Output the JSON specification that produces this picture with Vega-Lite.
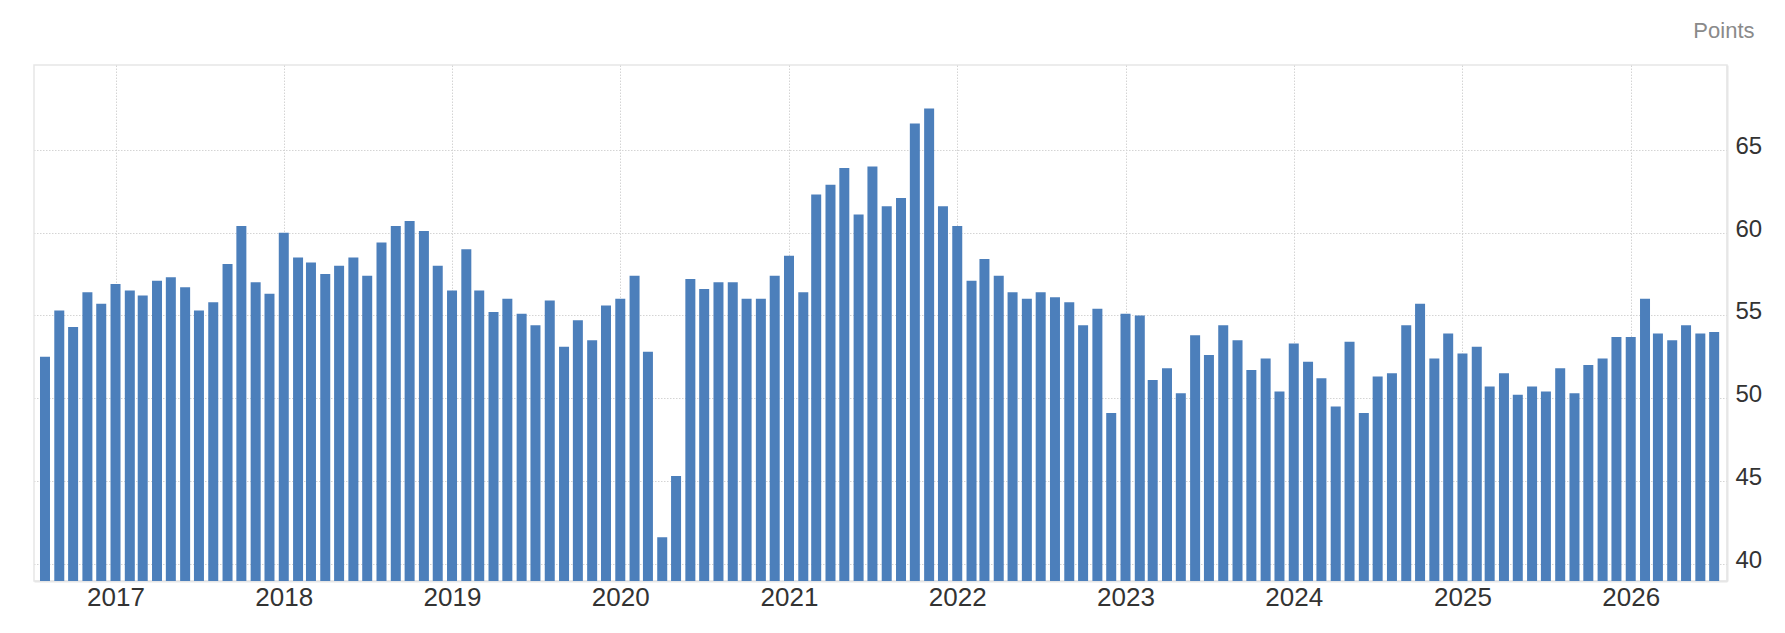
{
  "$schema": "https://vega.github.io/schema/vega-lite/v6.json",
  "width": 1693,
  "height": 516,
  "autosize": {"type": "none"},
  "padding": {"left": 34, "top": 65, "right": 58, "bottom": 52},
  "background": "white",
  "config": {
    "view": {"stroke": "#e6e6e6", "strokeWidth": 1.5},
    "font": "Liberation Sans"
  },
  "data": {
    "values": [
      {"date": "2016-08-01", "value": 52.5},
      {"date": "2016-09-01", "value": 55.3},
      {"date": "2016-10-01", "value": 54.3},
      {"date": "2016-11-01", "value": 56.4},
      {"date": "2016-12-01", "value": 55.7},
      {"date": "2017-01-01", "value": 56.9},
      {"date": "2017-02-01", "value": 56.5},
      {"date": "2017-03-01", "value": 56.2},
      {"date": "2017-04-01", "value": 57.1},
      {"date": "2017-05-01", "value": 57.3},
      {"date": "2017-06-01", "value": 56.7},
      {"date": "2017-07-01", "value": 55.3},
      {"date": "2017-08-01", "value": 55.8},
      {"date": "2017-09-01", "value": 58.1},
      {"date": "2017-10-01", "value": 60.4},
      {"date": "2017-11-01", "value": 57.0},
      {"date": "2017-12-01", "value": 56.3},
      {"date": "2018-01-01", "value": 60.0},
      {"date": "2018-02-01", "value": 58.5},
      {"date": "2018-03-01", "value": 58.2},
      {"date": "2018-04-01", "value": 57.5},
      {"date": "2018-05-01", "value": 58.0},
      {"date": "2018-06-01", "value": 58.5},
      {"date": "2018-07-01", "value": 57.4},
      {"date": "2018-08-01", "value": 59.4},
      {"date": "2018-09-01", "value": 60.4},
      {"date": "2018-10-01", "value": 60.7},
      {"date": "2018-11-01", "value": 60.1},
      {"date": "2018-12-01", "value": 58.0},
      {"date": "2019-01-01", "value": 56.5},
      {"date": "2019-02-01", "value": 59.0},
      {"date": "2019-03-01", "value": 56.5},
      {"date": "2019-04-01", "value": 55.2},
      {"date": "2019-05-01", "value": 56.0},
      {"date": "2019-06-01", "value": 55.1},
      {"date": "2019-07-01", "value": 54.4},
      {"date": "2019-08-01", "value": 55.9},
      {"date": "2019-09-01", "value": 53.1},
      {"date": "2019-10-01", "value": 54.7},
      {"date": "2019-11-01", "value": 53.5},
      {"date": "2019-12-01", "value": 55.6},
      {"date": "2020-01-01", "value": 56.0},
      {"date": "2020-02-01", "value": 57.4},
      {"date": "2020-03-01", "value": 52.8},
      {"date": "2020-04-01", "value": 41.6},
      {"date": "2020-05-01", "value": 45.3},
      {"date": "2020-06-01", "value": 57.2},
      {"date": "2020-07-01", "value": 56.6},
      {"date": "2020-08-01", "value": 57.0},
      {"date": "2020-09-01", "value": 57.0},
      {"date": "2020-10-01", "value": 56.0},
      {"date": "2020-11-01", "value": 56.0},
      {"date": "2020-12-01", "value": 57.4},
      {"date": "2021-01-01", "value": 58.6},
      {"date": "2021-02-01", "value": 56.4},
      {"date": "2021-03-01", "value": 62.3},
      {"date": "2021-04-01", "value": 62.9},
      {"date": "2021-05-01", "value": 63.9},
      {"date": "2021-06-01", "value": 61.1},
      {"date": "2021-07-01", "value": 64.0},
      {"date": "2021-08-01", "value": 61.6},
      {"date": "2021-09-01", "value": 62.1},
      {"date": "2021-10-01", "value": 66.6},
      {"date": "2021-11-01", "value": 67.5},
      {"date": "2021-12-01", "value": 61.6},
      {"date": "2022-01-01", "value": 60.4},
      {"date": "2022-02-01", "value": 57.1},
      {"date": "2022-03-01", "value": 58.4},
      {"date": "2022-04-01", "value": 57.4},
      {"date": "2022-05-01", "value": 56.4},
      {"date": "2022-06-01", "value": 56.0},
      {"date": "2022-07-01", "value": 56.4},
      {"date": "2022-08-01", "value": 56.1},
      {"date": "2022-09-01", "value": 55.8},
      {"date": "2022-10-01", "value": 54.4},
      {"date": "2022-11-01", "value": 55.4},
      {"date": "2022-12-01", "value": 49.1},
      {"date": "2023-01-01", "value": 55.1},
      {"date": "2023-02-01", "value": 55.0},
      {"date": "2023-03-01", "value": 51.1},
      {"date": "2023-04-01", "value": 51.8},
      {"date": "2023-05-01", "value": 50.3},
      {"date": "2023-06-01", "value": 53.8},
      {"date": "2023-07-01", "value": 52.6},
      {"date": "2023-08-01", "value": 54.4},
      {"date": "2023-09-01", "value": 53.5},
      {"date": "2023-10-01", "value": 51.7},
      {"date": "2023-11-01", "value": 52.4},
      {"date": "2023-12-01", "value": 50.4},
      {"date": "2024-01-01", "value": 53.3},
      {"date": "2024-02-01", "value": 52.2},
      {"date": "2024-03-01", "value": 51.2},
      {"date": "2024-04-01", "value": 49.5},
      {"date": "2024-05-01", "value": 53.4},
      {"date": "2024-06-01", "value": 49.1},
      {"date": "2024-07-01", "value": 51.3},
      {"date": "2024-08-01", "value": 51.5},
      {"date": "2024-09-01", "value": 54.4},
      {"date": "2024-10-01", "value": 55.7},
      {"date": "2024-11-01", "value": 52.4},
      {"date": "2024-12-01", "value": 53.9},
      {"date": "2025-01-01", "value": 52.7},
      {"date": "2025-02-01", "value": 53.1},
      {"date": "2025-03-01", "value": 50.7},
      {"date": "2025-04-01", "value": 51.5},
      {"date": "2025-05-01", "value": 50.2},
      {"date": "2025-06-01", "value": 50.7},
      {"date": "2025-07-01", "value": 50.4},
      {"date": "2025-08-01", "value": 51.8},
      {"date": "2025-09-01", "value": 50.3},
      {"date": "2025-10-01", "value": 52.0},
      {"date": "2025-11-01", "value": 52.4},
      {"date": "2025-12-01", "value": 53.7},
      {"date": "2026-01-01", "value": 53.7},
      {"date": "2026-02-01", "value": 56.0},
      {"date": "2026-03-01", "value": 53.9},
      {"date": "2026-04-01", "value": 53.5},
      {"date": "2026-05-01", "value": 54.4},
      {"date": "2026-06-01", "value": 53.9},
      {"date": "2026-07-01", "value": 54.0}
    ]
  },
  "mark": {"type": "bar", "color": "#4c7fbb", "width": 10, "clip": true},
  "encoding": {
    "x": {
      "field": "date",
      "type": "temporal",
      "scale": {
        "type": "utc",
        "domain": [
          {"year": 2016, "month": 7, "date": 19, "utc": true},
          {"year": 2026, "month": 7, "date": 18, "utc": true}
        ]
      },
      "axis": {
        "title": null,
        "values": [
          {"year": 2017, "month": 1, "date": 1, "utc": true},
          {"year": 2018, "month": 1, "date": 1, "utc": true},
          {"year": 2019, "month": 1, "date": 1, "utc": true},
          {"year": 2020, "month": 1, "date": 1, "utc": true},
          {"year": 2021, "month": 1, "date": 1, "utc": true},
          {"year": 2022, "month": 1, "date": 1, "utc": true},
          {"year": 2023, "month": 1, "date": 1, "utc": true},
          {"year": 2024, "month": 1, "date": 1, "utc": true},
          {"year": 2025, "month": 1, "date": 1, "utc": true},
          {"year": 2026, "month": 1, "date": 1, "utc": true}
        ],
        "format": "%Y",
        "ticks": false,
        "domainColor": "#e6e6e6",
        "domainWidth": 2,
        "labelFontSize": 26,
        "labelColor": "#333333",
        "labelPadding": 3,
        "labelFlush": false,
        "labelOverlap": false,
        "gridColor": "#d4d4d4",
        "gridDash": [1.5, 1.5],
        "gridWidth": 1
      }
    },
    "y": {
      "field": "value",
      "type": "quantitative",
      "scale": {"domain": [38.95, 70.13], "zero": false, "nice": false},
      "axis": {
        "orient": "right",
        "values": [40, 45, 50, 55, 60, 65],
        "ticks": false,
        "domainColor": "#e6e6e6",
        "domainWidth": 2,
        "labelFontSize": 24,
        "labelColor": "#333333",
        "labelPadding": 8,
        "labelOffset": -3.5,
        "gridColor": "#d4d4d4",
        "gridDash": [1.5, 1.5],
        "gridWidth": 1,
        "title": "Points",
        "titleAngle": 0,
        "titleX": 27,
        "titleY": -28,
        "titleAlign": "right",
        "titleBaseline": "alphabetic",
        "titleFontSize": 22,
        "titleFontWeight": "normal",
        "titleColor": "#8a8a8a"
      }
    }
  }
}
